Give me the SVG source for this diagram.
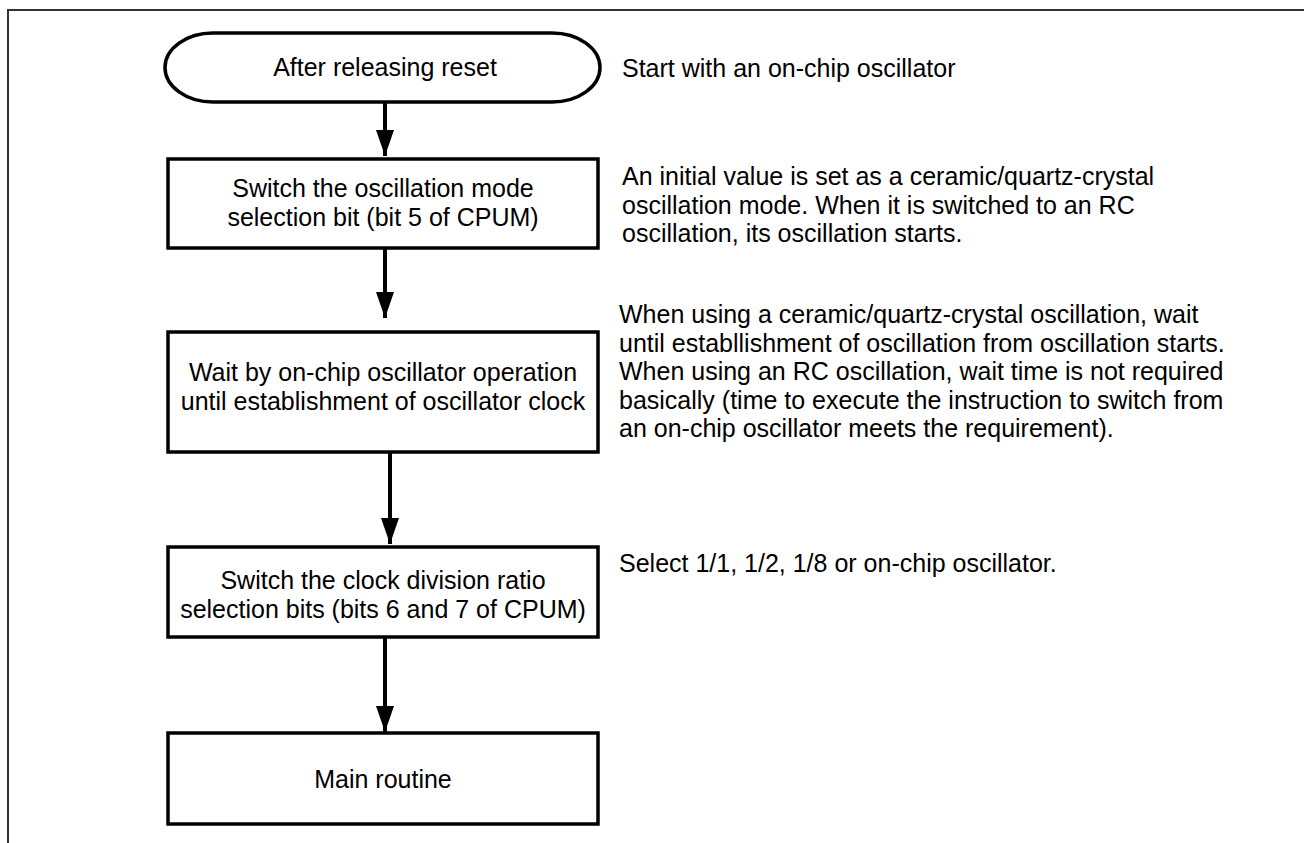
<svg xmlns="http://www.w3.org/2000/svg" width="1304" height="843" viewBox="0 0 1304 843">
<defs>
<style>
.t{font-family:"Liberation Sans",Arial,sans-serif;font-size:25px;fill:#000}
.c{text-anchor:middle}
.box{fill:#fff;stroke:#000;stroke-width:3.5}
.conn{stroke:#000;stroke-width:4;fill:none}
.frame{stroke:#333;stroke-width:2;fill:none}
</style>
<marker id="ah" markerUnits="userSpaceOnUse" markerWidth="26" markerHeight="18" refX="26" refY="9" orient="auto" viewBox="0 0 26 18">
<path d="M0,0 L26,9 L0,18 Z" fill="#000"/>
</marker>
</defs>
<rect width="1304" height="843" fill="#fff"/>
<path class="frame" d="M8,843 V10 H1304"/>
<g id="start">
<path class="box" d="M213,33 H552 A48,34.5 0 0 1 552,102 H213 A48,34.5 0 0 1 213,33 Z"/>
<text class="t c" x="385" y="76">After releasing reset</text>
</g>
<g id="box1">
<rect class="box" x="168" y="159" width="430" height="89"/>
<text class="t c" x="383" y="197">Switch the oscillation mode</text>
<text class="t c" x="383" y="226">selection bit (bit 5 of CPUM)</text>
</g>
<g id="box2">
<rect class="box" x="168" y="332" width="430" height="120"/>
<text class="t c" x="383" y="381">Wait by on-chip oscillator operation</text>
<text class="t c" x="383" y="410">until establishment of oscillator clock</text>
</g>
<g id="box3">
<rect class="box" x="168" y="547" width="430" height="90"/>
<text class="t c" x="383" y="589">Switch the clock division ratio</text>
<text class="t c" x="383" y="618">selection bits (bits 6 and 7 of CPUM)</text>
</g>
<g id="box4">
<rect class="box" x="168" y="733" width="430" height="91"/>
<text class="t c" x="383" y="788">Main routine</text>
</g>
<g id="notes">
<text class="t" x="622" y="77">Start with an on-chip oscillator</text>
<text class="t" x="622" y="185">An initial value is set as a ceramic/quartz-crystal</text>
<text class="t" x="622" y="214">oscillation mode. When it is switched to an RC</text>
<text class="t" x="622" y="242">oscillation, its oscillation starts.</text>
<text class="t" x="619" y="323">When using a ceramic/quartz-crystal oscillation, wait</text>
<text class="t" x="619" y="352">until establlishment of oscillation from oscillation starts.</text>
<text class="t" x="619" y="380">When using an RC oscillation, wait time is not required</text>
<text class="t" x="619" y="409">basically (time to execute the instruction to switch from</text>
<text class="t" x="619" y="437">an on-chip oscillator meets the requirement).</text>
<text class="t" x="619" y="572">Select 1/1, 1/2, 1/8 or on-chip oscillator.</text>
</g>
<g id="connectors">
<line class="conn" x1="385" y1="102" x2="385" y2="156" marker-end="url(#ah)"/>
<line class="conn" x1="385" y1="248" x2="385" y2="318" marker-end="url(#ah)"/>
<line class="conn" x1="390" y1="452" x2="390" y2="544" marker-end="url(#ah)"/>
<line class="conn" x1="385" y1="637" x2="385" y2="732" marker-end="url(#ah)"/>
</g>
</svg>
